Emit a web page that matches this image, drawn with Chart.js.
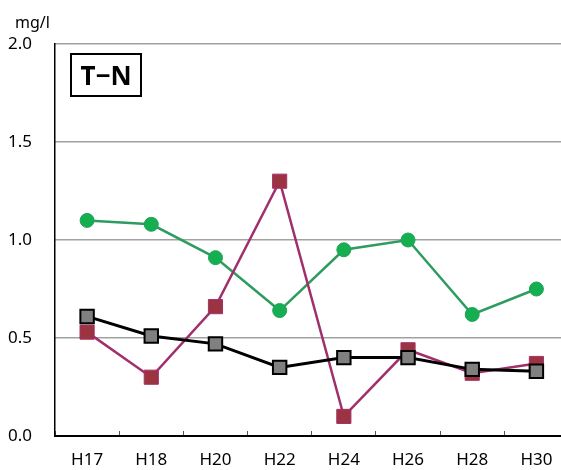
<!DOCTYPE html>
<html>
<head>
<meta charset="utf-8">
<script src="https://cdn.jsdelivr.net/npm/chart.js@4/dist/chart.umd.min.js"></script>
<style>
  html, body { margin: 0; padding: 0; background: #fff; }
  #wrap { width: 561px; height: 470px; overflow: hidden; position: relative; }
  canvas { display: block; }
</style>
</head>
<body>
<div id="wrap">
  <canvas id="tnChart" width="580" height="470"></canvas>
</div>
<script>
// 年度
const years = ['H17', 'H18', 'H20', 'H22', 'H24', 'H26', 'H28', 'H30'];

// T-N (mg/l)
const greenSeries = [1.10, 1.08, 0.91, 0.64, 0.95, 1.00, 0.62, 0.75];
const redSeries = [0.53, 0.30, 0.66, 1.30, 0.10, 0.44, 0.32, 0.37];
const blackSeries = [0.61, 0.51, 0.47, 0.35, 0.40, 0.40, 0.34, 0.33];

const yTicks = [0, 0.5, 1.0, 1.5, 2.0];

const FONT = '"Noto Sans", "Noto Sans CJK JP", sans-serif';

// unit label + title box
const annotations = {
    id: 'annotations',
    afterDraw(chart) {
        const ctx = chart.ctx;
        ctx.save();
        ctx.fillStyle = '#000';
        ctx.font = '16px ' + FONT;
        ctx.textBaseline = 'alphabetic';
        ctx.textAlign = 'left';
        ctx.fillText('mg/l', 15, 28);

        ctx.fillStyle = '#fff';
        ctx.fillRect(71, 54, 70, 42);
        ctx.strokeStyle = '#000';
        ctx.lineWidth = 2;
        ctx.strokeRect(71, 54, 70, 42);
        ctx.fillStyle = '#000';
        ctx.font = 'bold 26px ' + FONT;
        ctx.textAlign = 'center';
        ctx.fillText('T\u2212N', 106, 85);
        ctx.restore();
    }
};

new Chart(document.getElementById('tnChart'), {
    type: 'line',
    data: {
        labels: years,
        datasets: [
            {
                label: 'black',
                data: blackSeries,
                borderColor: '#000',
                borderWidth: 3,
                pointStyle: 'rect',
                pointRadius: 9.5,
                pointBorderWidth: 2,
                pointBackgroundColor: '#808080',
                pointBorderColor: '#000',
                order: 1
            },
            {
                label: 'red',
                data: redSeries,
                borderColor: '#a0306c',
                borderWidth: 2.5,
                pointStyle: 'rect',
                pointRadius: 10,
                pointBorderWidth: 1,
                pointBackgroundColor: '#9b3340',
                pointBorderColor: '#a3326a',
                order: 2
            },
            {
                label: 'green',
                data: greenSeries,
                borderColor: '#2e9c60',
                borderWidth: 2.5,
                pointStyle: 'circle',
                pointRadius: 7,
                pointBorderWidth: 1,
                pointBackgroundColor: '#15ae50',
                pointBorderColor: '#1fa356',
                order: 3
            }
        ]
    },
    options: {
        responsive: false,
        animation: false,
        layout: { padding: { top: 44, right: 8, bottom: 0, left: 0 } },
        plugins: {
            legend: { display: false },
            tooltip: { enabled: false }
        },
        elements: { line: { tension: 0 } },
        scales: {
            x: {
                offset: true,
                grid: {
                    offset: true,
                    drawOnChartArea: false,
                    drawTicks: true,
                    tickLength: -5,
                    color: '#555',
                    lineWidth: 1
                },
                border: { display: true, color: '#000', width: 2 },
                ticks: {
                    color: '#000',
                    padding: 19,
                    font: { family: FONT, size: 17 },
                    maxRotation: 0
                },
                afterFit(scale) { scale.height = 34; }
            },
            y: {
                min: 0,
                max: 2.0,
                afterBuildTicks(scale) {
                    scale.ticks = yTicks.map(v => ({ value: v }));
                },
                grid: {
                    drawTicks: false,
                    color: ctx => (ctx.tick && ctx.tick.value === 0) ? 'rgba(0,0,0,0)' : '#444',
                    lineWidth: 1.5
                },
                // dotted grid lines
                border: { display: true, color: '#000', width: 1.5, dash: [1, 1] },
                ticks: {
                    color: '#000',
                    padding: 23,
                    font: { family: FONT, size: 17 },
                    callback: v => Number(v).toFixed(1)
                },
                afterFit(scale) { scale.width = 55; }
            }
        }
    },
    plugins: [annotations]
});
</script>
</body>
</html>
